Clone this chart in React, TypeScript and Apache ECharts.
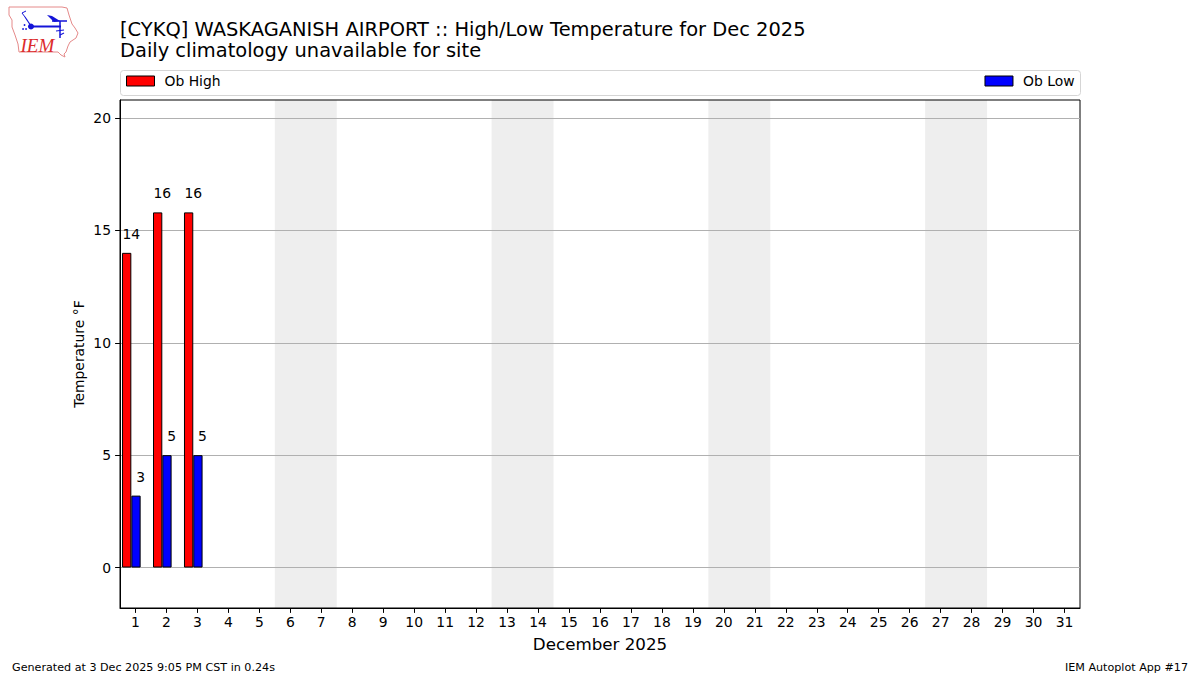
import React, { useEffect, useRef } from "react";
import * as echarts from "echarts";

const days = Array.from({ length: 31 }, (_, i) => String(i + 1));
const obHigh: (number | null)[] = [14, 15.8, 15.8];
const obLow: (number | null)[] = [3.2, 5, 5];
const weekends: [string, string][] = [["6", "7"], ["13", "14"], ["20", "21"], ["27", "28"]];
const yTicks = [0, 5, 10, 15, 20];
const titleLine1 = "[CYKQ] WASKAGANISH AIRPORT :: High/Low Temperature for Dec 2025";
const titleLine2 = "Daily climatology unavailable for site";
const footerLeft = "Generated at 3 Dec 2025 9:05 PM CST in 0.24s";
const footerRight = "IEM Autoplot App #17";
const FONT = "DejaVu Sans";

const iowa = [
  [9, 7], [62, 7], [67, 8], [69, 15], [72, 24], [75, 28], [78, 33], [76, 38], [70, 42], [68, 46],
  [66, 52], [64, 54], [65, 57], [61, 55], [58, 52], [19, 52], [18, 44], [15, 35], [12, 27], [12, 20], [9, 15],
];

function legendFor(name: string, pos: any) {
  return {
    data: [{ name, icon: "rect", itemStyle: { borderWidth: 1, borderColor: "#000" } }],
    top: 74,
    ...pos,
    itemWidth: 28,
    itemHeight: 10,
    padding: 0,
    textStyle: { fontFamily: FONT, fontSize: 13.9, color: "#000", padding: [0, 0, 0, 5] },
  };
}

function labelOpt() {
  return {
    show: true,
    position: "top",
    distance: 12,
    offset: [4.6, 0],
    fontFamily: FONT,
    fontSize: 13.9,
    color: "#000",
    formatter: (p: any) => String(Math.round(p.value)),
  };
}

export default function App() {
  const ref = useRef<HTMLDivElement>(null);
  useEffect(() => {
    const chart = echarts.init(ref.current!, undefined, { renderer: "svg" });
    const blue = "#1414d8";
    chart.setOption({
      animation: false,
      backgroundColor: "#fff",
      title: [
        { text: titleLine1, left: 120, top: 20, padding: 0, textStyle: { fontFamily: FONT, fontSize: 19.44, fontWeight: "normal", color: "#000" } },
        { text: titleLine2, left: 120, top: 41, padding: 0, textStyle: { fontFamily: FONT, fontSize: 19.44, fontWeight: "normal", color: "#000" } },
      ],
      legend: [legendFor("Ob High", { left: 126 }), legendFor("Ob Low", { right: 125.5 })],
      grid: { left: 120, right: 120, top: 100, bottom: 67, show: true, borderColor: "#000", borderWidth: 1, backgroundColor: "transparent" },
      xAxis: {
        type: "category",
        data: days,
        name: "December 2025",
        nameLocation: "middle",
        nameGap: 27,
        nameTextStyle: { fontFamily: FONT, fontSize: 16.7, color: "#000" },
        axisLine: { show: true, onZero: false, lineStyle: { color: "#000", width: 1 } },
        axisTick: { show: true, alignWithLabel: true, length: 4.9, lineStyle: { color: "#000", width: 1 } },
        axisLabel: { interval: 0, margin: 7, fontFamily: FONT, fontSize: 13.9, color: "#000" },
        splitLine: { show: false },
      },
      yAxis: {
        type: "value",
        min: -1.8,
        max: 20.8,
        name: "Temperature °F",
        nameLocation: "middle",
        nameGap: 34,
        nameMoveOverlap: false,
        nameTextStyle: { fontFamily: FONT, fontSize: 13.9, color: "#000" },
        axisLine: { show: true, lineStyle: { color: "#000", width: 1 } },
        axisTick: { show: true, length: 4.9, customValues: yTicks, lineStyle: { color: "#000", width: 1 } },
        axisLabel: { customValues: yTicks, margin: 9, fontFamily: FONT, fontSize: 13.9, color: "#000" },
        splitLine: { show: true, lineStyle: { color: "#b0b0b0", width: 1 } },
      },
      series: [
        {
          type: "custom",
          name: "Weekend",
          silent: true,
          z: -1,
          data: weekends.map(([a, b]) => [days.indexOf(a), days.indexOf(b)]),
          encode: { x: [0, 1] },
          renderItem: (_: any, api: any) => {
            const w = api.size([1, 0])[0];
            const x0 = api.coord([api.value(0), 0])[0] - w / 2;
            const x1 = api.coord([api.value(1), 0])[0] + w / 2;
            const top = api.coord([0, 20.8])[1];
            const bot = api.coord([0, -1.8])[1];
            return { type: "rect", shape: { x: x0, y: top, width: x1 - x0, height: bot - top }, style: { fill: "#eeeeee" } };
          },
        },
        {
          type: "bar",
          name: "Ob High",
          data: obHigh,
          barWidth: 9.3,
          barGap: 0,
          itemStyle: { color: "#ff0000", borderColor: "#000", borderWidth: 1 },
          label: labelOpt(),
        },
        {
          type: "bar",
          name: "Ob Low",
          data: obLow,
          barWidth: 9.3,
          barGap: 0,
          itemStyle: { color: "#0000ff", borderColor: "#000", borderWidth: 1 },
          label: labelOpt(),
        },
        { type: "bar", name: "spacer", data: [], barWidth: 8.3, barGap: 0 },
      ],
      graphic: [
        {
          type: "rect",
          z: -10,
          shape: { x: 120.5, y: 70.5, width: 960, height: 25, r: 3 },
          style: { fill: "#fff", stroke: "#d5d5d5", lineWidth: 1 },
        },
        { type: "polygon", shape: { points: iowa }, style: { fill: "#fff", stroke: "#e58a8a", lineWidth: 1 } },
        { type: "line", shape: { x1: 31, y1: 26.5, x2: 61, y2: 26.5 }, style: { stroke: blue, lineWidth: 2 } },
        { type: "line", shape: { x1: 60, y1: 21, x2: 60, y2: 38 }, style: { stroke: blue, lineWidth: 1.5 } },
        { type: "line", shape: { x1: 52, y1: 21, x2: 67, y2: 21 }, style: { stroke: blue, lineWidth: 1.5 } },
        { type: "polygon", shape: { points: [[47, 15], [52, 16], [60, 21], [54, 22]] }, style: { fill: blue } },
        { type: "circle", shape: { cx: 31, cy: 26.5, r: 3 }, style: { fill: blue } },
        { type: "polyline", shape: { points: [[25, 17], [31, 26]] }, style: { stroke: blue, lineWidth: 1.2, fill: "none" } },
        { type: "polyline", shape: { points: [[26, 11], [22, 13], [25, 17]] }, style: { stroke: blue, lineWidth: 1, fill: "none" } },
        { type: "circle", shape: { cx: 24.5, cy: 25, r: 0.9 }, style: { fill: blue } },
        { type: "circle", shape: { cx: 23, cy: 29, r: 0.9 }, style: { fill: blue } },
        { type: "circle", shape: { cx: 26, cy: 29, r: 0.9 }, style: { fill: blue } },
        { type: "line", shape: { x1: 56, y1: 31, x2: 64, y2: 30 }, style: { stroke: blue, lineWidth: 1.2 } },
        { type: "line", shape: { x1: 60, y1: 35, x2: 64, y2: 33 }, style: { stroke: blue, lineWidth: 1.2 } },
        { type: "text", x: 20.5, y: 35.5, style: { text: "IEM", fontFamily: "Liberation Serif", fontStyle: "italic", fontSize: 19, fill: "#dc2b2b" } },
        { type: "text", x: 12, y: 661.5, style: { text: footerLeft, fontFamily: FONT, fontSize: 11.15, fill: "#000" } },
        { type: "text", x: 1188, y: 661.5, style: { text: footerRight, align: "right", textAlign: "right", fontFamily: FONT, fontSize: 11.15, fill: "#000" } },
      ],
    });
    return () => chart.dispose();
  }, []);
  return <div ref={ref} style={{ position: "absolute", left: 0, top: 0, width: 1200, height: 675 }} />;
}
